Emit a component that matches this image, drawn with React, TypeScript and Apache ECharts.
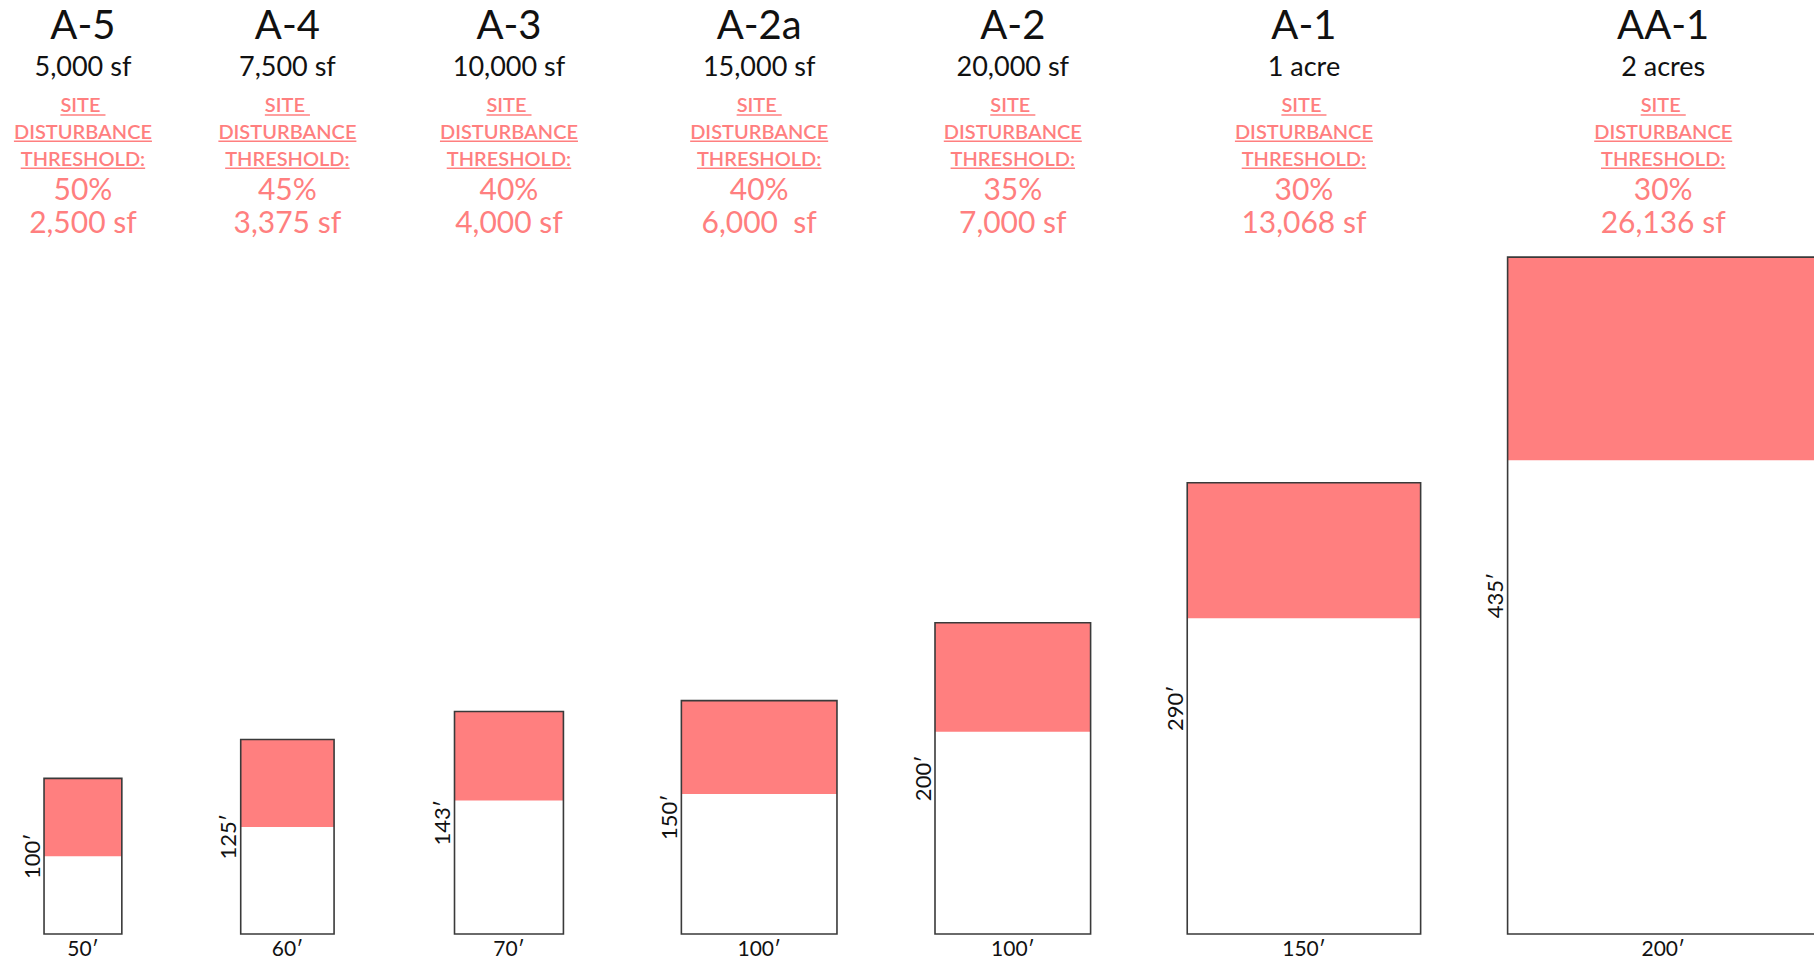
import React, { useEffect, useRef } from "react";
import * as echarts from "echarts";

// ---- data ----
const zones = ["A-5", "A-4", "A-3", "A-2a", "A-2", "A-1", "AA-1"];
const lotSizeLabels = ["5,000 sf", "7,500 sf", "10,000 sf", "15,000 sf", "20,000 sf", "1 acre", "2 acres"];
const lotWidthsFt = [50, 60, 70, 100, 100, 150, 200];
const lotDepthsFt = [100, 125, 143, 150, 200, 290, 435];
const thresholdPct = [50, 45, 40, 40, 35, 30, 30];
const thresholdAreaLabels = ["2,500 sf", "3,375 sf", "4,000 sf", "6,000  sf", "7,000 sf", "13,068 sf", "26,136 sf"];
const headingLines = ["SITE ", "DISTURBANCE", "THRESHOLD:"];

// ---- layout (feet along the drawing's horizontal scale) ----
const lotLeftFt = [28.3, 154.7, 292.1, 437.9, 600.9, 763.0, 968.9];
const PX_PER_FT = 1.556;
const W = 1814;
const H = 961;
const BASE_Y = 934;

const PINK = "#FF7F7F";
const INK = "#111111";
const FONT = "Lato, 'Open Sans', sans-serif";

let measureCtx: CanvasRenderingContext2D | null = null;
function measure(text: string, font: string): number {
  if (!measureCtx) {
    const c = document.createElement("canvas");
    measureCtx = c.getContext("2d");
  }
  if (!measureCtx) return text.length * 10;
  measureCtx.font = font;
  return measureCtx.measureText(text).width;
}

export default function App() {
  const ref = useRef<HTMLDivElement>(null);

  useEffect(() => {
    if (!ref.current) return;
    const chart = echarts.init(ref.current, undefined, { renderer: "svg" });

    const data = zones.map((z, i) => [lotLeftFt[i], lotWidthsFt[i], lotDepthsFt[i], thresholdPct[i], i]);

    const headFont = `600 20px ${FONT}`;

    const renderItem = (params: any, api: any) => {
      const i = params.dataIndex;
      const left = api.value(0);
      const w = api.value(1);
      const d = api.value(2);
      const p = api.value(3);
      const bl = api.coord([left, 0]);
      const tr = api.coord([left + w, d]);
      const x0 = bl[0];
      const y0 = bl[1];
      const x1 = tr[0];
      const y1 = tr[1];
      const h = y0 - y1;
      const cx = (x0 + x1) / 2;
      const pinkH = (h * p) / 100;

      const children: any[] = [
        { type: "rect", shape: { x: x0, y: y1, width: x1 - x0, height: h }, style: { fill: "#ffffff" } },
        { type: "rect", shape: { x: x0, y: y1, width: x1 - x0, height: pinkH }, style: { fill: PINK } },
        {
          type: "rect",
          shape: { x: x0, y: y1, width: x1 - x0, height: h },
          style: { fill: "none", stroke: "#3a3a3a", lineWidth: 1.6 },
        },
        {
          type: "text",
          x: cx,
          y: 24,
          style: { text: zones[i], fill: INK, font: `400 40px ${FONT}`, textAlign: "center", textVerticalAlign: "middle" },
        },
        {
          type: "text",
          x: cx,
          y: 65.5,
          style: { text: lotSizeLabels[i], fill: INK, font: `400 27px ${FONT}`, textAlign: "center", textVerticalAlign: "middle" },
        },
        {
          type: "text",
          x: cx,
          y: 188,
          style: { text: thresholdPct[i] + "%", fill: PINK, font: `400 30px ${FONT}`, textAlign: "center", textVerticalAlign: "middle" },
        },
        {
          type: "text",
          x: cx,
          y: 221,
          style: { text: thresholdAreaLabels[i], fill: PINK, font: `400 30px ${FONT}`, textAlign: "center", textVerticalAlign: "middle" },
        },
        {
          type: "text",
          x: cx,
          y: 947.5,
          style: { text: lotWidthsFt[i] + "\u2032", fill: INK, font: `400 21px ${FONT}`, textAlign: "center", textVerticalAlign: "middle" },
        },
        {
          type: "text",
          x: x0 - 13,
          y: (y0 + y1) / 2,
          rotation: Math.PI / 2,
          style: { text: lotDepthsFt[i] + "\u2032", fill: INK, font: `400 22px ${FONT}`, textAlign: "center", textVerticalAlign: "middle" },
        },
      ];

      const headMid = [104.2, 130.5, 157.5];
      headingLines.forEach((line, k) => {
        const tw = measure(line, headFont);
        children.push({
          type: "text",
          x: cx,
          y: headMid[k],
          style: { text: line, fill: PINK, font: headFont, textAlign: "center", textVerticalAlign: "middle" },
        });
        children.push({
          type: "line",
          shape: { x1: cx - tw / 2, y1: headMid[k] + 10.8, x2: cx + tw / 2, y2: headMid[k] + 10.8 },
          style: { stroke: PINK, lineWidth: 1.5 },
        });
      });

      return { type: "group", children };
    };

    chart.setOption({
      animation: false,
      backgroundColor: "#ffffff",
      grid: { left: 0, top: BASE_Y - 600 * PX_PER_FT, width: W, height: 600 * PX_PER_FT },
      xAxis: { type: "value", min: 0, max: W / PX_PER_FT, show: false },
      yAxis: { type: "value", min: 0, max: 600, show: false },
      series: [
        {
          type: "custom",
          silent: true,
          clip: false,
          renderItem,
          data,
          encode: { x: [0], y: [2] },
        },
      ],
    });

    return () => chart.dispose();
  }, []);

  return <div ref={ref} style={{ position: "fixed", left: 0, top: 0, width: W, height: H }} />;
}
